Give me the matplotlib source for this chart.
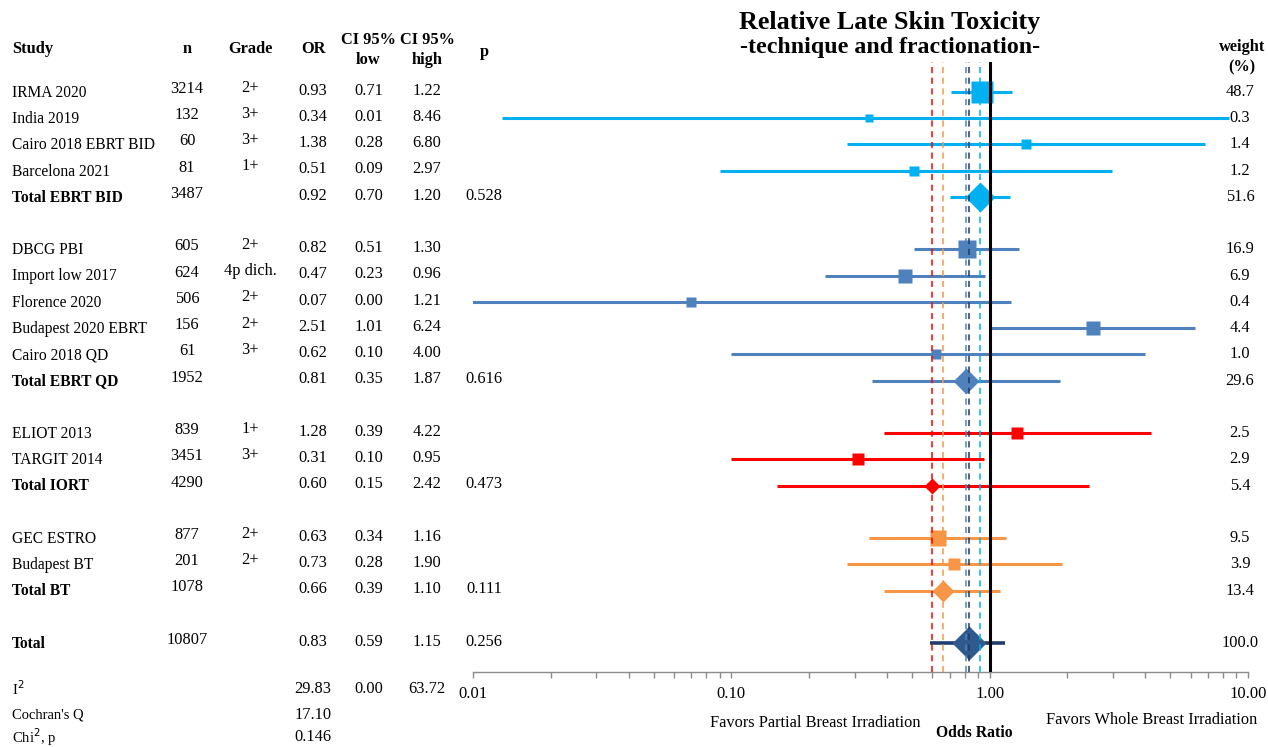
import numpy as np
import matplotlib
matplotlib.use("Agg")
import matplotlib.pyplot as plt
import matplotlib.transforms as mtransforms
from matplotlib.ticker import LogLocator, NullFormatter

plt.rcParams['font.family'] = ['Liberation Serif', 'DejaVu Serif']

# ---------------- study data -----------------
studies = ["IRMA 2020", "India 2019", "Cairo 2018 EBRT BID", "Barcelona 2021", "Total EBRT BID",
           "DBCG PBI", "Import low 2017", "Florence 2020", "Budapest 2020 EBRT", "Cairo 2018 QD", "Total EBRT QD",
           "ELIOT 2013", "TARGIT 2014", "Total IORT",
           "GEC ESTRO", "Budapest BT", "Total BT",
           "Total"]
n_vals = [3214, 132, 60, 81, 3487,
          605, 624, 506, 156, 61, 1952,
          839, 3451, 4290,
          877, 201, 1078,
          10807]
grades = ["2+", "3+", "3+", "1+", "",
          "2+", "4p dich.", "2+", "2+", "3+", "",
          "1+", "3+", "",
          "2+", "2+", "",
          ""]
odds = [0.93, 0.34, 1.38, 0.51, 0.92,
        0.82, 0.47, 0.07, 2.51, 0.62, 0.81,
        1.28, 0.31, 0.60,
        0.63, 0.73, 0.66,
        0.83]
ci_low = [0.71, 0.013, 0.28, 0.09, 0.70,
          0.51, 0.23, 0.004, 1.01, 0.10, 0.35,
          0.39, 0.10, 0.15,
          0.34, 0.28, 0.39,
          0.59]
ci_high = [1.22, 8.46, 6.80, 2.97, 1.20,
           1.30, 0.96, 1.21, 6.24, 4.00, 1.87,
           4.22, 0.95, 2.42,
           1.16, 1.90, 1.10,
           1.15]
p_vals = ["", "", "", "", "0.528",
          "", "", "", "", "", "0.616",
          "", "", "0.473",
          "", "", "0.111",
          "0.256"]
weights = [48.7, 0.3, 1.4, 1.2, 51.6,
           16.9, 6.9, 0.4, 4.4, 1.0, 29.6,
           2.5, 2.9, 5.4,
           9.5, 3.9, 13.4,
           100.0]
groups = [0, 0, 0, 0, 0,
          1, 1, 1, 1, 1, 1,
          2, 2, 2,
          3, 3, 3,
          4]
is_total = [False, False, False, False, True,
            False, False, False, False, False, True,
            False, False, True,
            False, False, True,
            True]

# heterogeneity statistics
het_labels = ["I$^2$", "Cochran's Q", "Chi$^2$, p"]
het_est = ["29.83", "17.10", "0.146"]
het_low = ["0.00", "", ""]
het_high = ["63.72", "", ""]

group_colors = ["#00B0F0", "#4F81BD", "#FF0000", "#F79646", "#2F5A8E"]
line_colors = ["#00B0F0", "#4F81BD", "#FF0000", "#F79646", "#1F3D6B"]
# pooled estimates shown as dashed reference lines
ref_or = [0.92, 0.81, 0.60, 0.66, 0.83]
ref_colors = ["#00B0F0", "#4F81BD", "#FF0000", "#F79646", "#1F3864"]

# row index: a blank row between groups
rows = []
k = 0
prev = groups[0]
for g in groups:
    if g != prev:
        k += 1
        prev = g
    rows.append(k)
    k += 1

W, H = 1268, 747
fig = plt.figure(figsize=(W / 100, H / 100), dpi=100)
ax = fig.add_axes([473 / W, 1 - 672 / H, (1248 - 473) / W, (672 - 62) / H])
ax.set_xscale("log")
ax.set_xlim(0.01, 10)
ax.set_ylim(22.10, -1.143)

for spine in ["top", "right", "left"]:
    ax.spines[spine].set_visible(False)
ax.spines["bottom"].set_color("#8C8C8C")
ax.spines["bottom"].set_linewidth(1.0)
ax.set_yticks([])
ax.xaxis.set_minor_locator(LogLocator(base=10, subs=np.arange(2, 10), numticks=20))
ax.xaxis.set_minor_formatter(NullFormatter())
ax.set_xticks([0.01, 0.1, 1, 10])
ax.set_xticklabels(["0.01", "0.10", "1.00", "10.00"])
ax.tick_params(axis="x", which="both", direction="out", length=4, width=1, color="#8C8C8C",
               labelsize=12, pad=6)

for i in range(len(studies)):
    y = rows[i]
    c = group_colors[groups[i]]
    lc = line_colors[groups[i]]
    lw = 2.6 if groups[i] == 4 else 2.2
    ax.hlines(y, ci_low[i], ci_high[i], color=lc, lw=lw, zorder=2)
    if is_total[i]:
        w_px = 7 + 13.5 * np.log10(weights[i])
        ax.plot(odds[i], y, marker="D", ms=w_px / 1.389 / 1.414, color=c, mec="none", zorder=3)
    else:
        s_px = 6 + 4.4 * weights[i] ** (1 / 3)
        ax.plot(odds[i], y, marker="s", ms=s_px / 1.389, color=c, mec="none", zorder=3)

for r, c in zip(ref_or, ref_colors):
    ax.axvline(r, color=c, lw=1.1, ls=(0, (4, 3)), zorder=4)
ax.axvline(1.0, color="black", lw=2.2, zorder=5)

# table columns on the left and weight column on the right
tr = mtransforms.blended_transform_factory(fig.transFigure, ax.transData)
fs = 11.2
fn = 11.8
for i in range(len(studies)):
    y = rows[i]
    ax.text(12 / W, y + 0.03, studies[i], transform=tr, ha="left", va="center", fontsize=fs,
            fontweight="bold" if is_total[i] else "normal", clip_on=False)
    ax.text(187 / W, y - 0.12, str(n_vals[i]), transform=tr, ha="center", va="center", fontsize=fn)
    ax.text(250 / W, y - 0.17, grades[i], transform=tr, ha="center", va="center", fontsize=fn)
    ax.text(313 / W, y - 0.05, f"{odds[i]:.2f}", transform=tr, ha="center", va="center", fontsize=fn)
    ax.text(369 / W, y - 0.05, f"{ci_low[i]:.2f}", transform=tr, ha="center", va="center", fontsize=fn)
    ax.text(427 / W, y - 0.05, f"{ci_high[i]:.2f}", transform=tr, ha="center", va="center", fontsize=fn)
    ax.text(484 / W, y - 0.05, p_vals[i], transform=tr, ha="center", va="center", fontsize=fn)
    ax.text(1240 / W, y, f"{weights[i]:.1f}", transform=tr, ha="center", va="center", fontsize=fn)

het_y = [689, 715, 737]
for lab, est, lo, hi, yp in zip(het_labels, het_est, het_low, het_high, het_y):
    fig.text(12 / W, 1 - yp / H, lab, ha="left", va="center", fontsize=10.5)
    fig.text(313 / W, 1 - yp / H, est, ha="center", va="center", fontsize=fn)
    fig.text(369 / W, 1 - yp / H, lo, ha="center", va="center", fontsize=fn)
    fig.text(427 / W, 1 - yp / H, hi, ha="center", va="center", fontsize=fn)

# headers
hdr = dict(fontsize=11.8, fontweight="bold", va="center")
fig.text(12 / W, 1 - 49 / H, "Study", ha="left", **hdr)
fig.text(187 / W, 1 - 49 / H, "n", ha="center", **hdr)
fig.text(250 / W, 1 - 49 / H, "Grade", ha="center", **hdr)
fig.text(313 / W, 1 - 49 / H, "OR", ha="center", **hdr)
fig.text(368 / W, 1 - 40 / H, "CI 95%", ha="center", **hdr)
fig.text(368 / W, 1 - 60 / H, "low", ha="center", **hdr)
fig.text(427 / W, 1 - 40 / H, "CI 95%", ha="center", **hdr)
fig.text(427 / W, 1 - 60 / H, "high", ha="center", **hdr)
fig.text(484 / W, 1 - 52 / H, "p", ha="center", **hdr)
fig.text(1242 / W, 1 - 47 / H, "weight", ha="center", **hdr)
fig.text(1242 / W, 1 - 67 / H, "(%)", ha="center", **hdr)

fig.text(890 / W, 1 - 22 / H, "Relative Late Skin Toxicity", ha="center", va="center",
         fontsize=18.8, fontweight="bold")
fig.text(890 / W, 1 - 48 / H, "-technique and fractionation-", ha="center", va="center",
         fontsize=17.2, fontweight="bold")

fig.text(815 / W, 1 - 723 / H, "Favors Partial Breast Irradiation", ha="center", va="center", fontsize=11.8)
fig.text(974 / W, 1 - 733 / H, "Odds Ratio", ha="center", va="center", fontsize=11.3, fontweight="bold")
fig.text(1152 / W, 1 - 720 / H, "Favors Whole Breast Irradiation", ha="center", va="center", fontsize=11.8)

fig.savefig("out.png", dpi=100)
